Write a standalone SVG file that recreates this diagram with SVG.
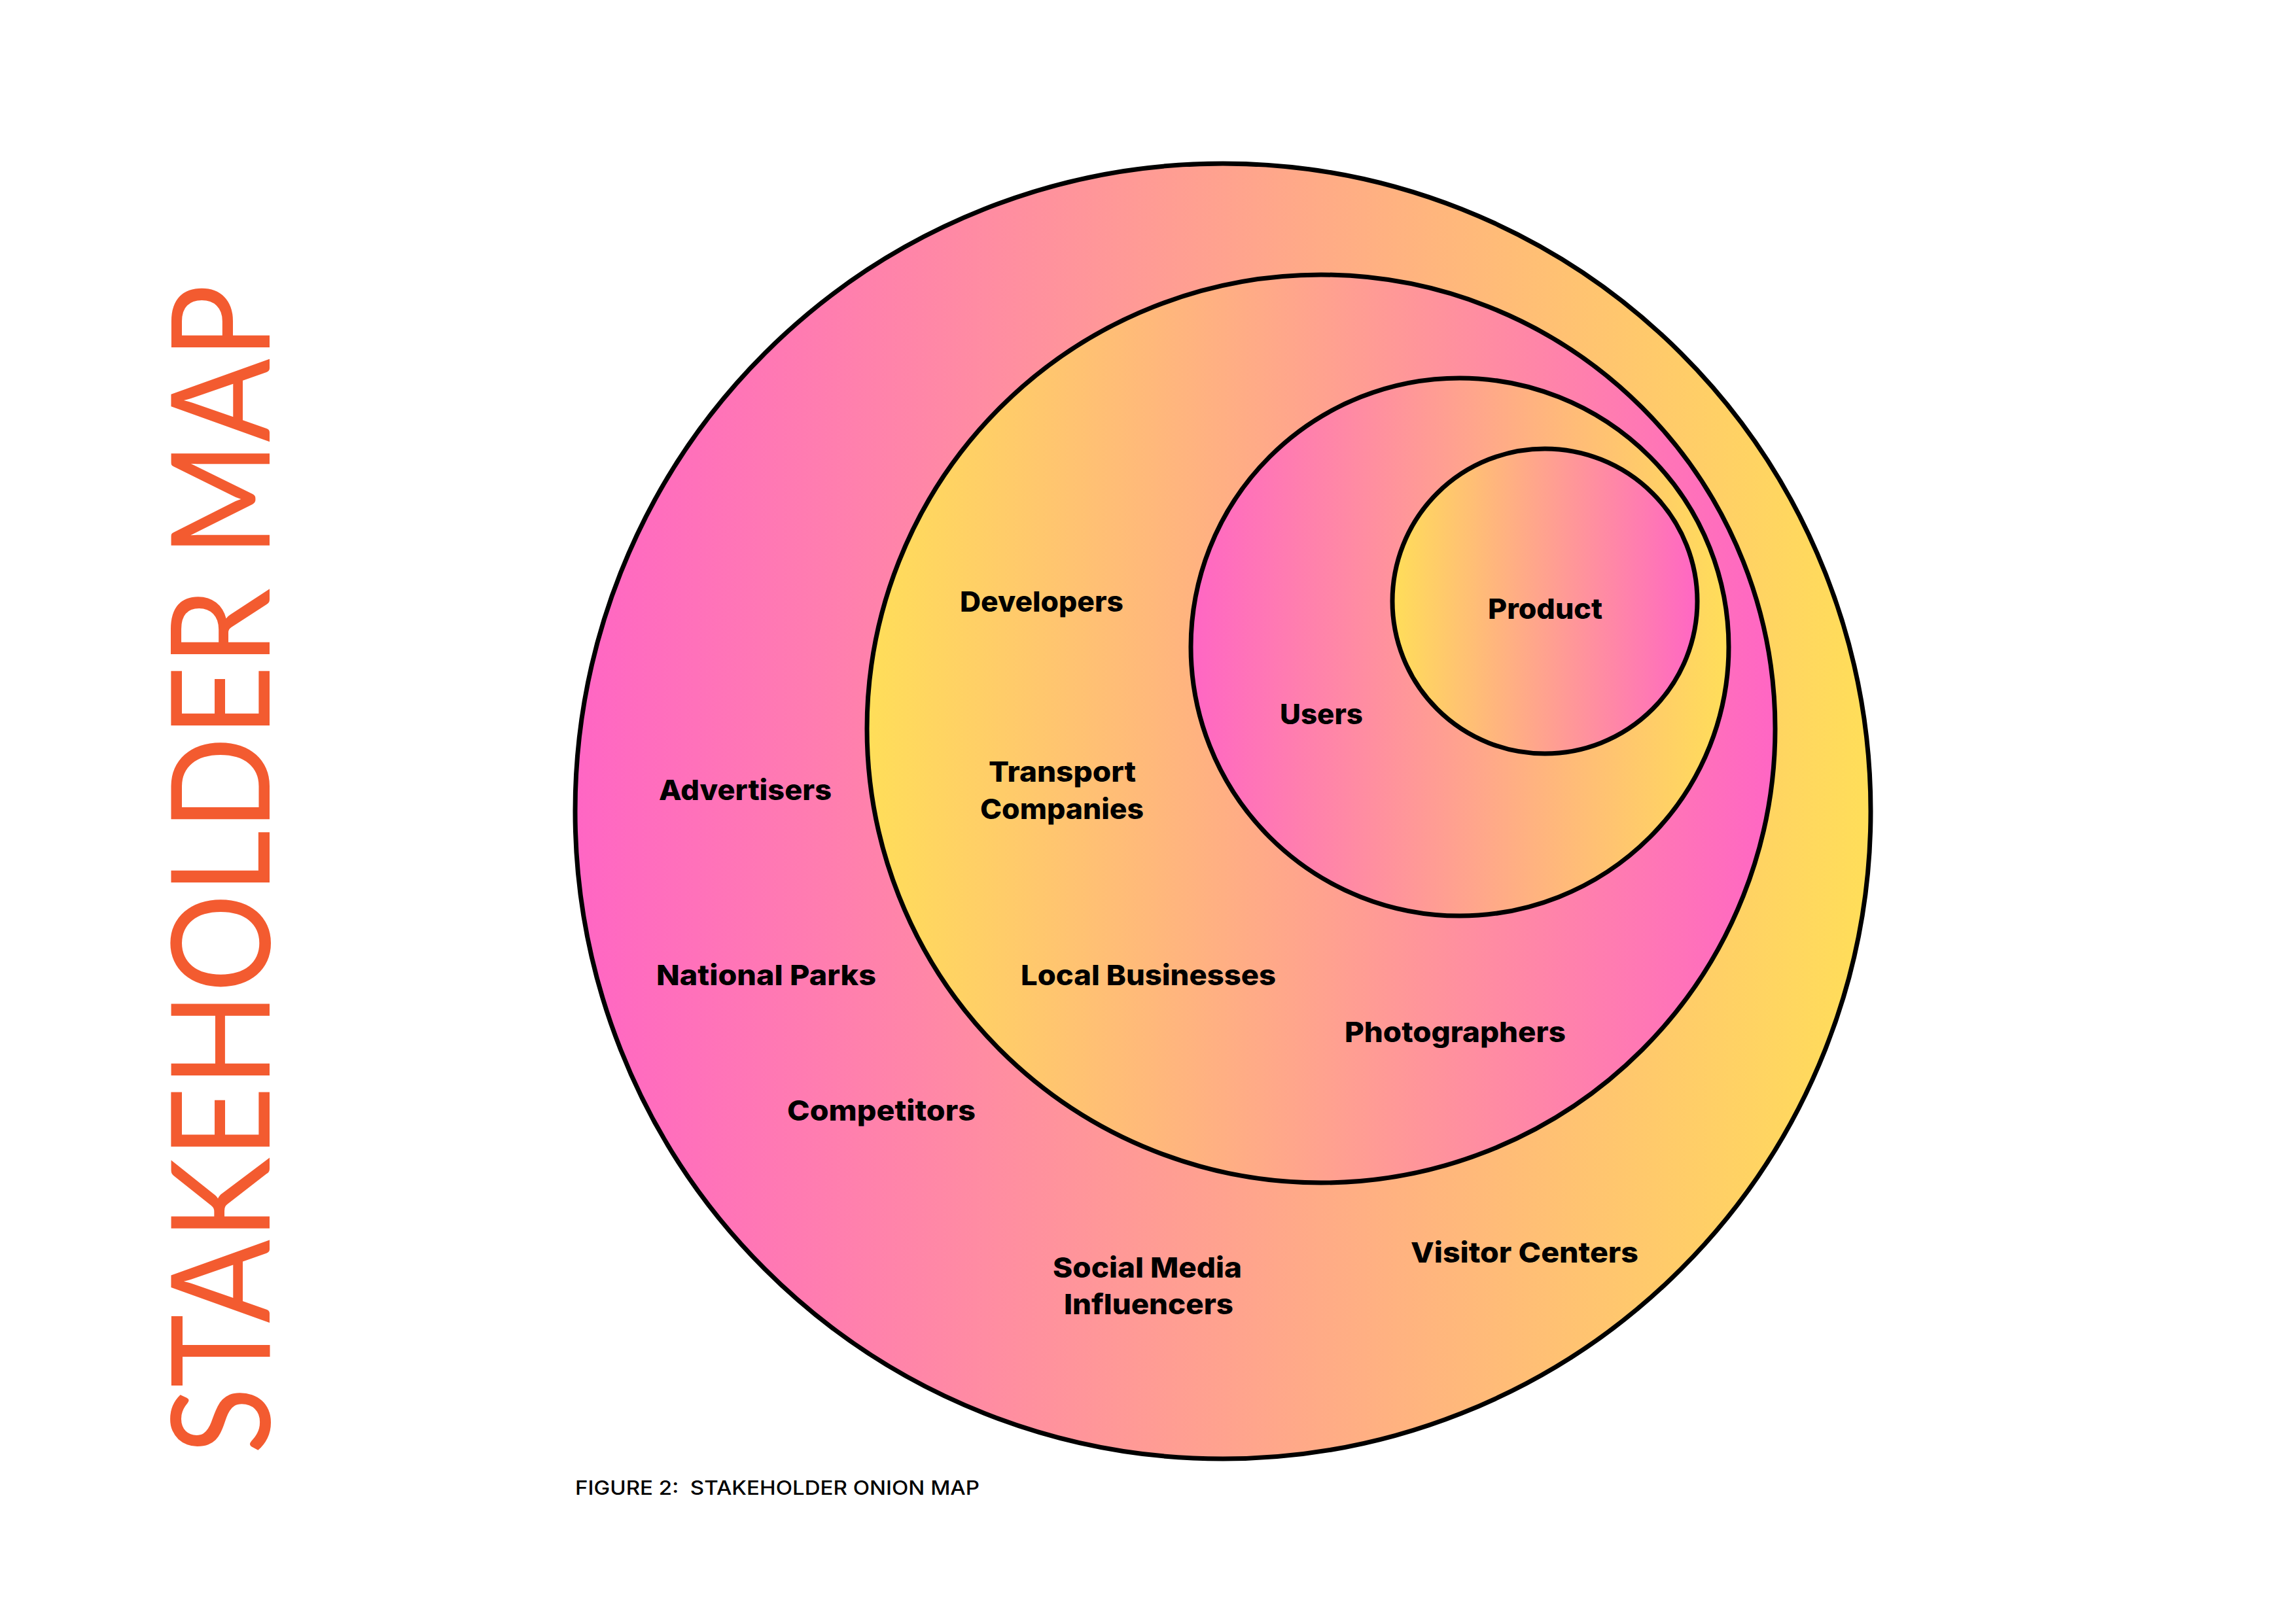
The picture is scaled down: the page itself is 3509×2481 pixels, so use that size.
<svg xmlns="http://www.w3.org/2000/svg" width="3509" height="2481" viewBox="0 0 3509 2481">
  <defs>
    <linearGradient id="pinkToYellow" x1="0" y1="0" x2="1" y2="0">
      <stop offset="0" stop-color="#FF66C4"/>
      <stop offset="1" stop-color="#FFDE59"/>
    </linearGradient>
    <linearGradient id="yellowToPink" x1="0" y1="0" x2="1" y2="0">
      <stop offset="0" stop-color="#FFDE59"/>
      <stop offset="1" stop-color="#FF66C4"/>
    </linearGradient>
    <style>
      .ring { stroke: #000000; stroke-width: 7; }
      .label { font-family: Inter, "Liberation Sans", Arial, sans-serif; font-weight: 800; font-size: 43px; fill: #000000; }
      .title { font-family: Lato, "Liberation Sans", Arial, sans-serif; font-weight: 400; font-size: 209px; fill: #F35B30; }
      .caption { font-family: Inter, "Liberation Sans", Arial, sans-serif; font-weight: 500; font-size: 30px; fill: #000000; }
    </style>
  </defs>
  <rect x="0" y="0" width="3509" height="2481" fill="#FFFFFF"/>

  <g id="title">
    <text class="title" transform="translate(412,2223) rotate(-90)" x="0" y="0" textLength="1788" lengthAdjust="spacingAndGlyphs">STAKEHOLDER MAP</text>
  </g>

  <g id="ring-outer">
    <circle class="ring" cx="1869" cy="1240" r="990" fill="url(#pinkToYellow)"/>
    <text class="label" x="1007" y="1223" textLength="264" lengthAdjust="spacingAndGlyphs">Advertisers</text>
    <text class="label" x="1003" y="1506" textLength="336" lengthAdjust="spacingAndGlyphs">National Parks</text>
    <text class="label" x="1203" y="1713" textLength="288" lengthAdjust="spacingAndGlyphs">Competitors</text>
    <text class="label" x="1609" y="1953" textLength="289" lengthAdjust="spacingAndGlyphs">Social Media</text>
    <text class="label" x="1626" y="2009" textLength="259" lengthAdjust="spacingAndGlyphs">Influencers</text>
    <text class="label" x="2156" y="1930" textLength="348" lengthAdjust="spacingAndGlyphs">Visitor Centers</text>
  </g>

  <g id="ring-second">
    <circle class="ring" cx="2019" cy="1114" r="694" fill="url(#yellowToPink)"/>
    <text class="label" x="1467" y="935" textLength="250" lengthAdjust="spacingAndGlyphs">Developers</text>
    <text class="label" x="1511" y="1195" textLength="225" lengthAdjust="spacingAndGlyphs">Transport</text>
    <text class="label" x="1498" y="1252" textLength="250" lengthAdjust="spacingAndGlyphs">Companies</text>
    <text class="label" x="1560" y="1506" textLength="390" lengthAdjust="spacingAndGlyphs">Local Businesses</text>
    <text class="label" x="2055" y="1593" textLength="338" lengthAdjust="spacingAndGlyphs">Photographers</text>
  </g>

  <g id="ring-users">
    <circle class="ring" cx="2231" cy="989" r="411" fill="url(#pinkToYellow)"/>
    <text class="label" x="1956" y="1107" textLength="127" lengthAdjust="spacingAndGlyphs">Users</text>
  </g>

  <g id="ring-product">
    <circle class="ring" cx="2361" cy="919" r="233" fill="url(#yellowToPink)"/>
    <text class="label" x="2274" y="946" textLength="175" lengthAdjust="spacingAndGlyphs">Product</text>
  </g>

  <g id="connectors"></g>

  <g id="caption">
    <text class="caption" x="879" y="2285" xml:space="preserve" textLength="618" lengthAdjust="spacingAndGlyphs">FIGURE 2:  STAKEHOLDER ONION MAP</text>
  </g>
</svg>
